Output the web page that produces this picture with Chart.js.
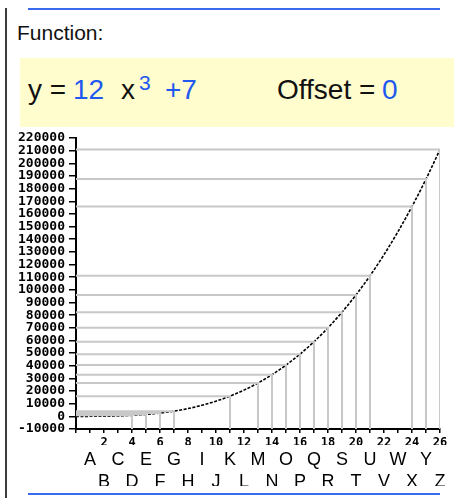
<!DOCTYPE html>
<html>
<head>
<meta charset="utf-8">
<script src="https://cdn.jsdelivr.net/npm/chart.js@4/dist/chart.umd.min.js"></script>
<style>
  html, body { margin: 0; padding: 0; background: #fff; }
  body { width: 454px; height: 498px; position: relative; overflow: hidden; font-family: 'Liberation Sans', Arial, sans-serif; }
  .abs { position: absolute; white-space: nowrap; }
  .eq { position: absolute; top: 74px; font-size: 28px; line-height: 32px; color: #111; }
  .blue { color: #2058f0; }
  #chart { position: absolute; left: 0; top: 0; }
</style>
</head>
<body>
<div class="abs" style="left:5px;top:8px;width:2px;height:490px;background:#3c3c3c"></div>
<div class="abs" style="left:28px;top:8px;width:412px;height:2px;background:#3a6bef"></div>
<div class="abs" style="left:17px;top:21px;font-size:21px;line-height:24px;color:#111">Function:</div>
<div class="abs" style="left:20px;top:58px;width:434px;height:69px;background:#fffcce"></div>
<div class="eq" style="left:28px">y =</div>
<div class="eq blue" style="left:73px">12</div>
<div class="eq" style="left:121px">x</div>
<div class="eq blue" style="left:139px;top:67px;font-size:21px">3</div>
<div class="eq blue" style="left:165px">+7</div>
<div class="eq" style="left:277px">Offset =</div>
<div class="eq blue" style="left:382px">0</div>
<div class="abs" style="left:28px;top:493px;width:412px;height:2px;background:#3a6bef"></div>
<canvas id="chart" width="454" height="498"></canvas>
<script>
// curve y = 12x^3 + 7, read at x = 0..26
const xValues = [0, 1, 2, 3, 4, 5, 6, 7, 8, 9, 10, 11, 12, 13, 14, 15, 16, 17, 18, 19, 20, 21, 22, 23, 24, 25, 26];
const yValues = [7, 19, 103, 331, 775, 1507, 2599, 4123, 6151, 8755, 12007, 15979, 20743, 26371, 32935,
                 40507, 49159, 58963, 69991, 82315, 96007, 111139, 127783, 146011, 165895, 187507, 210919];

// points that get grey drop lines to both axes
const markedX = [4, 5, 6, 7, 11, 13, 14, 15, 16, 17, 18, 19, 20, 21, 24, 25, 26];
const markedY = [775, 1507, 2599, 4123, 15979, 26371, 32935, 40507, 49159, 58963, 69991, 82315, 96007, 111139, 165895, 187507, 210919];

const letterLabels = ['A','B','C','D','E','F','G','H','I','J','K','L','M','N','O','P','Q','R','S','T','U','V','W','X','Y','Z'];

const Y_MIN = -10000;
const Y_MAX = 220000;

const datasets = [];
markedX.forEach((x, i) => {
    datasets.push({
        data: [{ x: 0, y: markedY[i] }, { x: x, y: markedY[i] }, { x: x, y: Y_MIN }],
        borderColor: '#c8c8c8',
        borderWidth: 2,
        pointRadius: 0,
        tension: 0,
        fill: false
    });
});
datasets.push({
    data: xValues.map((x, i) => ({ x: x, y: yValues[i] })),
    borderColor: '#000',
    borderWidth: 1.6,
    borderDash: [3, 1.5],
    pointRadius: 0,
    cubicInterpolationMode: 'monotone',
    fill: false
});

const digitFont = { family: 'DejaVu Sans Mono', size: 12, weight: 'bold', lineHeight: 1 };

new Chart(document.getElementById('chart'), {
    type: 'line',
    data: { datasets: datasets },
    options: {
        responsive: false,
        animation: false,
        events: [],
        layout: { padding: { left: 10, right: 14, top: 138, bottom: 12 }, autoPadding: false },
        plugins: { legend: { display: false }, tooltip: { enabled: false } },
        scales: {
            x: {
                type: 'linear', position: 'bottom', min: 0, max: 26,
                afterFit(s) { s.height = 16; },
                ticks: {
                    stepSize: 1, autoSkip: false, maxRotation: 0, color: '#000', padding: 4, font: digitFont,
                    callback: v => (v > 0 && v % 2 === 0) ? String(v) : ''
                },
                grid: { drawOnChartArea: false, drawTicks: true, tickLength: 4, color: '#000', lineWidth: 1.5 },
                border: { color: '#000', width: 2 }
            },
            letters: {
                type: 'linear', axis: 'x', position: 'bottom', min: 0, max: 26,
                afterFit(s) { s.height = 41; },
                ticks: {
                    stepSize: 1, autoSkip: false, maxRotation: 0, color: '#000', padding: 5,
                    font: { family: 'Liberation Sans', size: 18, lineHeight: 1.17 },
                    callback: v => {
                        if (v < 1) return '';
                        const l = letterLabels[v - 1];
                        return v % 2 === 1 ? [l, ''] : ['', l];
                    }
                },
                grid: { display: false, drawTicks: false },
                border: { display: false }
            },
            y: {
                type: 'linear', min: Y_MIN, max: Y_MAX,
                afterFit(s) { s.width = 66; },
                ticks: {
                    stepSize: 10000, autoSkip: false, color: '#000', padding: 4,
                    font: { family: 'DejaVu Sans Mono', size: 13, weight: 'bold', lineHeight: 1 },
                    callback: v => String(v)
                },
                grid: { drawOnChartArea: false, drawTicks: true, tickLength: 7, color: '#000', lineWidth: 1.5 },
                border: { color: '#000', width: 2 }
            }
        }
    }
});
</script>
</body>
</html>
